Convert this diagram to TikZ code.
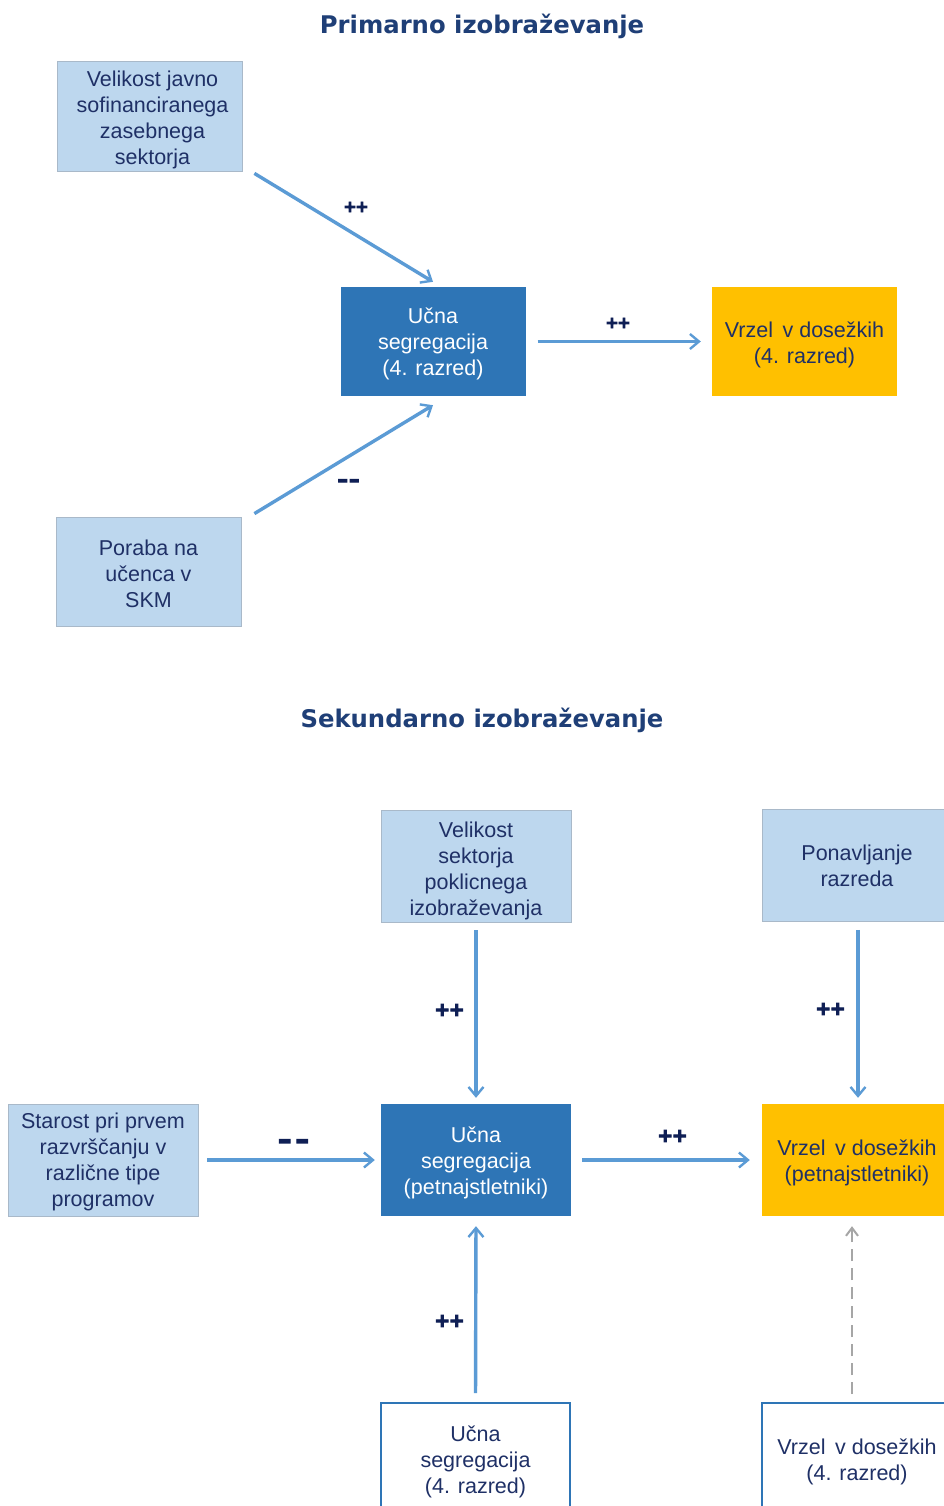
\documentclass[tikz,border=0pt]{standalone}
\usepackage{fontspec}
\setmainfont{Liberation Sans}
\newfontfamily\titlefont{DejaVu Sans}
\newfontfamily\labelfont[BoldFeatures={FakeBold=5}]{DejaVu Sans}
\usetikzlibrary{arrows.meta}
\definecolor{lightbox}{HTML}{BDD7EE}
\definecolor{lightborder}{HTML}{A9B9C9}
\definecolor{darkbox}{HTML}{2E75B6}
\definecolor{goldbox}{HTML}{FFC000}
\definecolor{arrowblue}{HTML}{5B9BD5}
\definecolor{navytext}{HTML}{1F3066}
\definecolor{titleblue}{HTML}{1F3F77}
\definecolor{labelnavy}{HTML}{0F1F55}
\definecolor{dashgray}{HTML}{A6A6A6}
\tikzset{
  box/.style={rectangle, inner sep=0pt},
  lightnode/.style={box, fill=lightbox, draw=lightborder, line width=0.8pt},
  darknode/.style={box, fill=darkbox},
  goldnode/.style={box, fill=goldbox},
  whitenode/.style={box, fill=white, draw=darkbox, line width=2pt},
  txt/.style={inner sep=0pt, align=center, text=navytext,
    font=\fontsize{21.5}{26}\selectfont},
  wtxt/.style={txt, text=white},
  conn/.style={draw=arrowblue, line width=3.4pt,
    -{Straight Barb[length=9pt,width=15pt,line width=2.4pt]}},
  dconn/.style={draw=dashgray, line width=2.6pt, dash pattern=on 12pt off 7pt,
    -{Straight Barb[length=8pt,width=12pt,line width=2pt]}},
  lbl/.style={text=labelnavy, font=\labelfont\bfseries\fontsize{16}{16}\selectfont, inner sep=0pt},
  biglbl/.style={text=labelnavy, font=\labelfont\bfseries\fontsize{19}{19}\selectfont, inner sep=0pt},
  dashlbl/.style={text=labelnavy, font=\labelfont\bfseries\fontsize{21}{21}\selectfont, inner sep=0pt},
  bigdashlbl/.style={text=labelnavy, font=\labelfont\bfseries\fontsize{27}{27}\selectfont, inner sep=0pt},
  ttl/.style={text=titleblue, font=\titlefont\bfseries\fontsize{24.3}{26}\selectfont, inner sep=0pt}
}
\begin{document}
\begin{tikzpicture}[x=1pt,y=-1pt]
\clip (0,0) rectangle (944,1506);
\fill[white] (0,0) rectangle (944,1506);

% ---------- Primarno ----------
\node[ttl] (t1) at (482,26) {Primarno izobraževanje};

\node[lightnode, minimum width=185pt, minimum height=110pt] (A) at (149.5,116) {};
\node[darknode, minimum width=185pt, minimum height=109pt] (B) at (433,341.5) {};
\node[goldnode, minimum width=185pt, minimum height=109pt] (C) at (804.5,341.5) {};
\node[lightnode, minimum width=185pt, minimum height=109pt] (D) at (148.5,571.5) {};

\node[txt] (At) at ([shift={(3pt,-4pt)}]A.center) {Velikost javno\\sofinanciranega\\zasebnega\\sektorja};
\node[wtxt] (Bt) at ([yshift=-2.5pt]B.center) {Učna\\segregacija\\(4. razred)};
\node[txt] (Ct) at ([yshift=-3pt]C.center) {Vrzel\, v dosežkih\\(4. razred)};
\node[txt] (Dt) at ([yshift=-2pt]D.center) {Poraba na\\učenca v\\SKM};

\draw[conn] ([shift={(12pt,-2pt)}]A.south east) -- ([yshift=5pt]B.north);
\draw[conn] ([shift={(13pt,3pt)}]D.north east) -- ([yshift=-9pt]B.south);
\draw[conn, shorten <=12pt, shorten >=11pt] (B.east) -- (C.west);

\node[lbl] (l1) at (356,207) {+\kern-1.5pt+};
\node[lbl] (l2) at (618,323) {+\kern-1.5pt+};
\node[dashlbl] (l3) at (348.5,483) {–\kern1pt–};

% ---------- Sekundarno ----------
\node[ttl] (t2) at (482,720) {Sekundarno izobraževanje};

\node[lightnode, minimum width=190pt, minimum height=112pt] (E) at (476,866) {};
\node[lightnode, minimum width=190pt, minimum height=112pt] (F) at (857,865.5) {};
\node[lightnode, minimum width=190pt, minimum height=112pt] (G) at (103,1160) {};
\node[darknode, minimum width=190pt, minimum height=112pt] (H) at (476,1160) {};
\node[goldnode, minimum width=190pt, minimum height=112pt] (I) at (857,1160) {};
\node[whitenode, minimum width=189pt, minimum height=112pt] (J) at (475.5,1459) {};
\node[whitenode, minimum width=190pt, minimum height=112pt] (K) at (857,1459) {};

\node[txt] (Et) at ([yshift=-4.5pt]E.center) {Velikost\\sektorja\\poklicnega\\izobraževanja};
\node[txt] (Ft) at ([yshift=-0.5pt]F.center) {Ponavljanje\\razreda};
\node[txt] (Gt) at ([yshift=-2pt]G.center) {Starost pri prvem\\razvrščanju v\\različne tipe\\programov};
\node[wtxt] (Ht) at ([yshift=-2.5pt]H.center) {Učna\\segregacija\\(petnajstletniki)};
\node[txt] (It) at ([yshift=-3pt]I.center) {Vrzel\, v dosežkih\\(petnajstletniki)};
\node[txt] (Jt) at ([yshift=-2.5pt]J.center) {Učna\\segregacija\\(4. razred)};
\node[txt] (Kt) at ([yshift=-2.5pt]K.center) {Vrzel\, v dosežkih\\(4. razred)};

\draw[conn, shorten <=8pt, shorten >=6pt] (E.south) -- (H.north);
\draw[conn, shorten <=8pt, shorten >=6pt] ([xshift=1pt]F.south) -- ([xshift=1pt]I.north);
\draw[conn, shorten <=9pt, shorten >=6pt] (G.east) -- (H.west);
\draw[conn, shorten <=11pt, shorten >=12pt] (H.east) -- (I.west);
\draw[conn, shorten <=9pt, shorten >=10pt] (J.north) -- (H.south);
\draw[dconn, shorten <=8pt, shorten >=10pt] ([xshift=-5pt]K.north) -- ([xshift=-5pt]I.south);

\node[biglbl] (l4) at (449.5,1010) {+\kern-1.5pt+};
\node[biglbl] (l5) at (830.5,1009) {+\kern-1.5pt+};
\node[bigdashlbl] (l6) at (293.5,1144) {–\kern4pt–};
\node[biglbl] (l7) at (672.5,1136) {+\kern-1.5pt+};
\node[biglbl] (l8) at (449.5,1321) {+\kern-1.5pt+};
\end{tikzpicture}
\end{document}
